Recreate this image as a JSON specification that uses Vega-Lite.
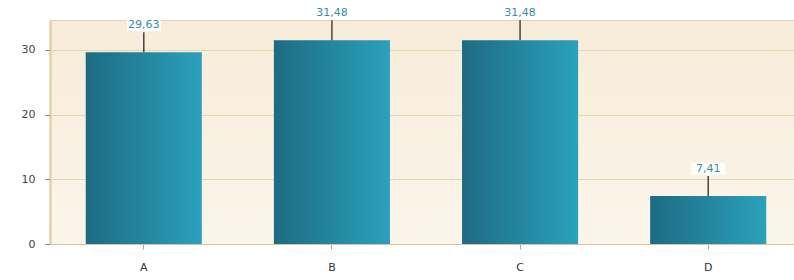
{
  "$schema": "https://vega.github.io/schema/vega-lite/v6.json",
  "autosize": "none",
  "width": 752,
  "height": 224,
  "padding": {"left": 50, "top": 20, "right": 0, "bottom": 36},
  "background": "white",
  "config": {
    "locale": {"number": {"decimal": ",", "thousands": ".", "grouping": [3], "currency": ["", ""]}},
    "view": {"fill": {"gradient": "linear", "x1": 0, "y1": 0, "x2": 0, "y2": 1, "stops": [{"offset": 0, "color": "#f7ecd9"}, {"offset": 1, "color": "#fbf5ea"}]}, "stroke": "#e6d3b0", "strokeWidth": 1},
    "font": "DejaVu Sans"
  },
  "data": {"values": [
    {"cat": "A", "value": 29.63},
    {"cat": "B", "value": 31.48},
    {"cat": "C", "value": 31.48},
    {"cat": "D", "value": 7.41}
  ]},
  "encoding": {
    "x": {"field": "cat", "type": "nominal", "scale": {"paddingInner": 0.383, "paddingOuter": 0.19},
      "axis": {"title": null, "labelAngle": 0, "labelColor": "#333333", "labelFontSize": 11, "labelPadding": 12, "tickColor": "#b8a57c", "tickSize": 5, "domainColor": "#d9c39a", "grid": false}},
    "y": {"field": "value", "type": "quantitative", "scale": {"domain": [0, 34.6], "nice": false},
      "axis": {"title": null, "values": [0, 10, 20, 30], "labelColor": "#444444", "labelFontSize": 11, "labelPadding": 10, "tickColor": "#777777", "tickSize": 5, "domainColor": "#e0c898", "domainWidth": 2, "gridColor": "#e6d5b3", "gridWidth": 1}}
  },
  "layer": [
    {"mark": {"type": "bar", "fill": {"gradient": "linear", "x1": 0, "y1": 0, "x2": 1, "y2": 0, "stops": [{"offset": 0, "color": "#1d6b83"}, {"offset": 1, "color": "#2ba1bb"}]}}},
    {"mark": {"type": "rule", "color": "#444444", "strokeWidth": 1.5, "y2Offset": -20}, "encoding": {"y2": {"field": "value"}}},
    {"mark": {"type": "point", "shape": "M-1.7,-0.6H1.7V0.6H-1.7Z", "size": 400, "filled": true, "fill": "white", "opacity": 0.85, "strokeWidth": 0, "yOffset": -27}},
    {"mark": {"type": "text", "color": "#3a8ea6", "fontSize": 11, "yOffset": -27, "baseline": "middle"}, "encoding": {"text": {"field": "value", "type": "quantitative", "format": ".2f"}}}
  ]
}
